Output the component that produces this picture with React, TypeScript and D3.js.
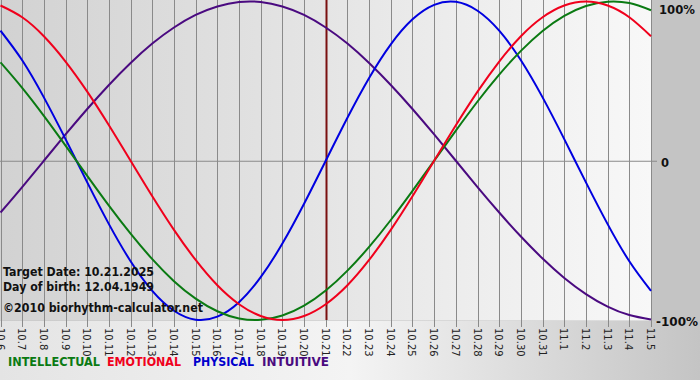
import React from "react";
import * as d3 from "d3";

const dayLabels = [
  "10.6","10.7","10.8","10.9","10.10","10.11","10.12","10.13","10.14","10.15",
  "10.16","10.17","10.18","10.19","10.20","10.21","10.22","10.23","10.24","10.25",
  "10.26","10.27","10.28","10.29","10.30","10.31","11.1","11.2","11.3","11.4","11.5",
];

const physical = [
  0.817, 0.631, 0.398, 0.136, -0.136, -0.398, -0.631, -0.817, -0.942, -0.998,
  -0.979, -0.888, -0.731, -0.52, -0.27, 0, 0.27, 0.52, 0.731, 0.888,
  0.979, 0.998, 0.942, 0.817, 0.631, 0.398, 0.136, -0.136, -0.398, -0.631, -0.817,
];
const emotional = [
  0.975, 0.901, 0.782, 0.623, 0.434, 0.223, 0, -0.223, -0.434, -0.623,
  -0.782, -0.901, -0.975, -1, -0.975, -0.901, -0.782, -0.623, -0.434, -0.223,
  0, 0.223, 0.434, 0.623, 0.782, 0.901, 0.975, 1, 0.975, 0.901, 0.782,
];
const intellectual = [
  0.618, 0.458, 0.282, 0.095, -0.095, -0.282, -0.458, -0.618, -0.756, -0.866,
  -0.945, -0.99, -0.999, -0.972, -0.91, -0.815, -0.69, -0.541, -0.372, -0.189,
  0, 0.189, 0.372, 0.541, 0.69, 0.815, 0.91, 0.972, 0.999, 0.99, 0.945,
];
const intuitive = [
  -0.325, -0.165, 0, 0.165, 0.325, 0.476, 0.614, 0.736, 0.837, 0.916,
  0.969, 0.997, 0.997, 0.969, 0.916, 0.837, 0.736, 0.614, 0.476, 0.325,
  0.165, 0, -0.165, -0.325, -0.476, -0.614, -0.736, -0.837, -0.916, -0.969, -0.997,
];

const targetIndex = 15;
const yTicks = [
  { v: 1, label: "100%" },
  { v: 0, label: "0" },
  { v: -1, label: "-100%" },
];
const legend = [
  { name: "INTELLECTUAL", color: "#0a7a12" },
  { name: "EMOTIONAL", color: "#f0001c" },
  { name: "PHYSICAL", color: "#0000cc" },
  { name: "INTUITIVE", color: "#4a0a80" },
];
const seriesList = [
  { data: intuitive, color: "#4a0a80" },
  { data: physical, color: "#0000e0" },
  { data: intellectual, color: "#0a7a12" },
  { data: emotional, color: "#f0001c" },
];

export default function App() {
  const W = 700, H = 380;
  const x = d3.scaleLinear().domain([0, dayLabels.length - 1]).range([0.5, 651]);
  const y = d3.scaleLinear().domain([-1, 1]).range([320, 1.5]);
  const line = d3
    .line<number>()
    .x((_, i) => x(i))
    .y((d) => y(d))
    .curve(d3.curveNatural);
  const font = "Verdana, 'DejaVu Sans', sans-serif";
  const legendX = [8, 107, 193, 262];
  const legendW = [92, 74, 61, 67];
  const yLabelPos: Record<string, { x: number; dy: number; w: number }> = {
    "100%": { x: 659, dy: 12, w: 36 },
    "0": { x: 661, dy: 6, w: 8 },
    "-100%": { x: 656, dy: 6, w: 42 },
  };
  return (
    <svg
      width={W}
      height={H}
      style={{ position: "absolute", left: 0, top: 0, display: "block" }}
      fontFamily={font}
    >
      <defs>
        <linearGradient id="plotbg" x1="0" x2="1" y1="0" y2="0">
          <stop offset="0" stopColor="#d2d2d2" />
          <stop offset="1" stopColor="#f8f8f8" />
        </linearGradient>
        <linearGradient id="botbg" x1="0" x2="1" y1="0" y2="0">
          <stop offset="0" stopColor="#e4e4e4" />
          <stop offset="0.5" stopColor="#f4f4f4" />
          <stop offset="1" stopColor="#c4c4c4" />
        </linearGradient>
      </defs>
      <rect x={0} y={0} width={W} height={H} fill="#c4c4c4" />
      <rect x={0} y={321} width={W} height={H - 321} fill="url(#botbg)" />
      <rect x={0} y={0} width={651} height={320.5} fill="url(#plotbg)" />
      {dayLabels.map((d, i) => (
        <line
          key={"g" + i}
          x1={Math.round(x(i)) + 0.5}
          x2={Math.round(x(i)) + 0.5}
          y1={0}
          y2={327}
          stroke="#8a8a8a"
          strokeWidth={1}
        />
      ))}
      <line x1={0} x2={657} y1={y(0) + 0.5} y2={y(0) + 0.5} stroke="#8a8a8a" />
      <line
        x1={Math.round(x(targetIndex)) + 0.5}
        x2={Math.round(x(targetIndex)) + 0.5}
        y1={0}
        y2={320}
        stroke="#7a1010"
        strokeWidth={2}
      />
      {seriesList.map((s, k) => (
        <path key={"s" + k} d={line(s.data) || ""} fill="none" stroke={s.color} strokeWidth={2} />
      ))}
      {dayLabels.map((d, i) => (
        <text
          key={"t" + i}
          transform={`translate(${x(i) - 4},328) rotate(90)`}
          fontSize={10}
          fill="#222"
        >
          {d}
        </text>
      ))}
      {yTicks.map((t) => {
        const p = yLabelPos[t.label];
        return (
          <text
            key={t.label}
            x={p.x}
            y={y(t.v) + p.dy}
            fontSize={12.5}
            fontWeight="bold"
            fill="#111"
            textLength={p.w}
            lengthAdjust="spacingAndGlyphs"
          >
            {t.label}
          </text>
        );
      })}
      <text x={3} y={276} fontSize={12} fontWeight="bold" fill="#111" textLength={151} lengthAdjust="spacingAndGlyphs">
        Target Date: 10.21.2025
      </text>
      <text x={3} y={291} fontSize={12} fontWeight="bold" fill="#111" textLength={151} lengthAdjust="spacingAndGlyphs">
        Day of birth: 12.04.1949
      </text>
      <text x={3} y={312} fontSize={13} fontWeight="bold" fill="#111" textLength={200} lengthAdjust="spacingAndGlyphs">
        ©2010 biorhythm-calculator.net
      </text>
      {legend.map((l, i) => (
        <text
          key={l.name}
          x={legendX[i]}
          y={366}
          fontSize={12}
          fontWeight="bold"
          fill={l.color}
          textLength={legendW[i]}
          lengthAdjust="spacingAndGlyphs"
        >
          {l.name}
        </text>
      ))}
    </svg>
  );
}
